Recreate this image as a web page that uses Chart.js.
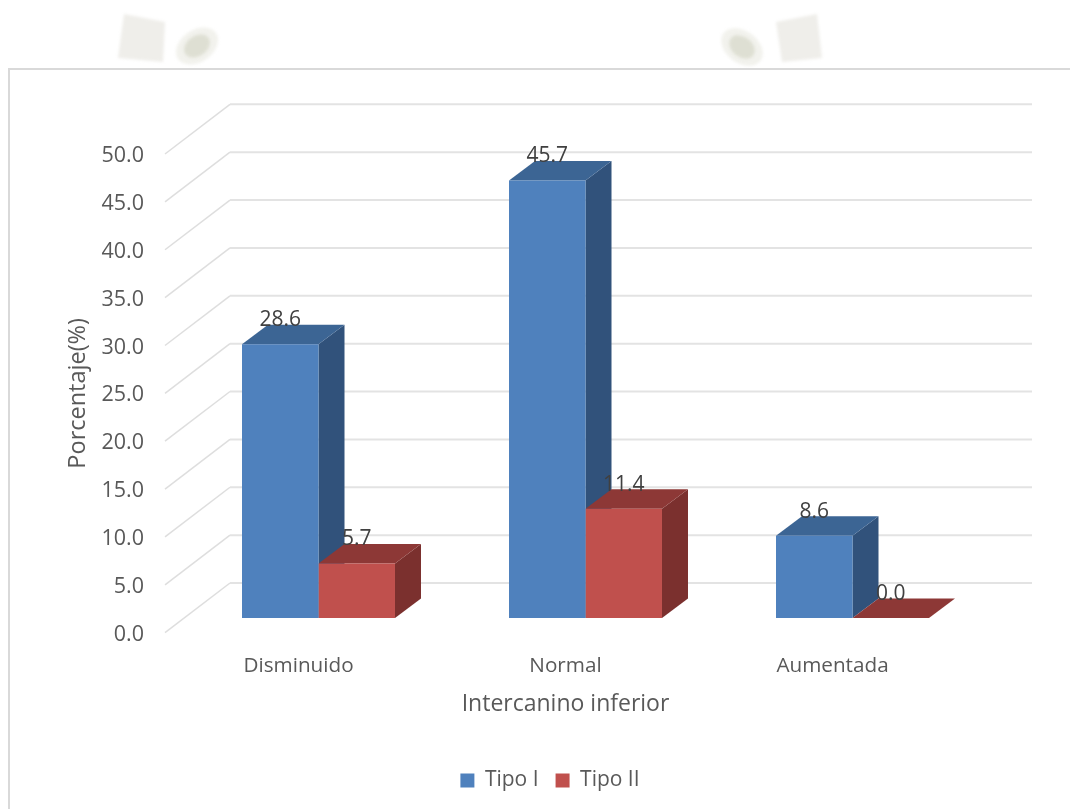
<!DOCTYPE html>
<html>
<head>
<meta charset="utf-8">
<title>Intercanino inferior</title>
<script src="https://cdn.jsdelivr.net/npm/chart.js@4"></script>
<style>
  html, body { margin: 0; padding: 0; background: #fff; }
  canvas { display: block; }
</style>
</head>
<body>
<canvas id="myChart" width="1070" height="809"></canvas>
<script>
const categories = ['Disminuido', 'Normal', 'Aumentada'];
const tipoI = [28.6, 45.7, 8.6];
const tipoII = [5.7, 11.4, 0.0];

const FONT = '"Open Sans", sans-serif';
const TEXT = '#595959';

// 3d look: how far the back wall and the bar depth are shifted
const WALL_DX = 65, WALL_DY = -49.7, WALL_RIGHT = 1032, WALL_LEFT = 165;
const BAR_DX = 26, BAR_DY = -19.5;
const FLOOR_SHIFT = 1.535; // bars stand a bit above the 0.0 tick, in axis units

const faces = [
    { front: '#4f81bd', side: '#31527b', top: '#3c6594' },
    { front: '#c0504d', side: '#7b302e', top: '#8d3836' }
];

function poly(c, pts, fill) {
    c.fillStyle = fill;
    c.beginPath();
    pts.forEach((p, i) => i ? c.lineTo(p[0], p[1]) : c.moveTo(p[0], p[1]));
    c.closePath();
    c.fill();
}

function blob(c, x, y, rot) {
    c.fillStyle = '#f2f2ed';
    c.beginPath();
    c.ellipse(x, y, 23, 16, rot, 0, Math.PI * 2);
    c.fill();
    c.fillStyle = '#dedfd3';
    c.beginPath();
    c.ellipse(x, y, 14, 10, rot, 0, Math.PI * 2);
    c.fill();
}

// page furniture: faint scan marks and the frame
const framePlugin = {
    id: 'frame',
    beforeDraw(chart) {
        const c = chart.ctx;
        c.save();
        c.fillStyle = '#fff';
        c.fillRect(0, 0, chart.width, chart.height);
        c.filter = 'blur(1.5px)';
        poly(c, [[124, 14], [165, 22], [163, 62], [118, 58]], '#efeeea');
        blob(c, 197, 46, -0.6);
        poly(c, [[776, 22], [817, 14], [822, 58], [782, 62]], '#efeeea');
        blob(c, 742, 47, 0.65);
        c.filter = 'none';
        c.strokeStyle = '#d9d9d9';
        c.lineWidth = 2;
        c.beginPath();
        c.moveTo(9, 809);
        c.lineTo(9, 69);
        c.lineTo(1070, 69);
        c.stroke();
        c.restore();
    }
};

// back wall lines and the 3d faces, all under the real bars
const wallPlugin = {
    id: 'wall',
    beforeDatasetsDraw(chart) {
        const c = chart.ctx, y = chart.scales.y;
        c.save();
        y.ticks.forEach(t => {
            const py = y.getPixelForValue(t.value);
            c.strokeStyle = '#dedede';
            c.lineWidth = 1.5;
            c.beginPath();
            c.moveTo(WALL_LEFT, py);
            c.lineTo(WALL_LEFT + WALL_DX, py + WALL_DY);
            c.stroke();
            c.strokeStyle = '#e3e3e3';
            c.lineWidth = 2;
            c.beginPath();
            c.moveTo(WALL_LEFT + WALL_DX, py + WALL_DY);
            c.lineTo(WALL_RIGHT, py + WALL_DY);
            c.stroke();
        });
        chart.data.datasets.forEach((ds, i) => {
            const f = faces[i];
            chart.getDatasetMeta(i).data.forEach(bar => {
                const l = bar.x - bar.width / 2, r = bar.x + bar.width / 2;
                const t = bar.y, b = bar.base;
                if (b - t > 0.5) {
                    poly(c, [[r, t], [r + BAR_DX, t + BAR_DY], [r + BAR_DX, b + BAR_DY], [r, b]], f.side);
                }
                poly(c, [[l, t], [l + BAR_DX, t + BAR_DY], [r + BAR_DX, t + BAR_DY], [r, t]], f.top);
            });
        });
        c.restore();
    }
};

const textPlugin = {
    id: 'texts',
    afterDatasetsDraw(chart) {
        const c = chart.ctx;
        c.save();
        c.font = '21px ' + FONT;
        c.fillStyle = '#404040';
        c.textAlign = 'center';
        c.textBaseline = 'middle';
        chart.data.datasets.forEach((ds, i) => {
            chart.getDatasetMeta(i).data.forEach((bar, j) => {
                c.fillText(ds.data[j].toFixed(1), bar.x, bar.y - 24);
            });
        });
        // axis title sits under the labels, not under the shifted bars
        c.font = '23px ' + FONT;
        c.fillStyle = TEXT;
        c.fillText('Intercanino inferior', 565.5, 704);
        c.restore();
    }
};

new Chart(document.getElementById('myChart').getContext('2d'), {
    type: 'bar',
    data: {
        labels: categories,
        datasets: [
            { label: 'Tipo I', data: tipoI, backgroundColor: faces[0].front, yAxisID: 'yBars' },
            { label: 'Tipo II', data: tipoII, backgroundColor: faces[1].front, yAxisID: 'yBars' }
        ]
    },
    options: {
        responsive: false,
        animation: false,
        categoryPercentage: 0.573,
        barPercentage: 1,
        layout: { padding: { left: 64, right: 34, top: 154, bottom: 8 } },
        plugins: {
            legend: {
                position: 'bottom',
                labels: {
                    boxWidth: 14,
                    boxHeight: 14,
                    padding: 17,
                    color: TEXT,
                    font: { family: FONT, size: 21 }
                }
            },
            tooltip: { enabled: false }
        },
        scales: {
            x: {
                grid: { display: false },
                border: { display: false },
                afterFit(s) { s.height = 120.3; },
                ticks: {
                    color: TEXT,
                    font: { family: FONT, size: 20.7 },
                    padding: 13,
                    labelOffset: -20,
                    autoSkip: false,
                    maxRotation: 0
                }
            },
            y: {
                min: 0,
                max: 50,
                grid: { display: false },
                border: { display: false },
                afterFit(s) { s.width = 121; },
                ticks: {
                    stepSize: 5,
                    color: TEXT,
                    font: { family: FONT, size: 21.5 },
                    padding: 33,
                    labelOffset: 2,
                    callback: v => v.toFixed(1)
                },
                title: {
                    display: true,
                    text: 'Porcentaje(%)',
                    color: TEXT,
                    font: { family: FONT, size: 23.5 },
                    padding: 0
                }
            },
            // same scale as y, moved so that value 0 sits on the floor of the bars
            yBars: {
                position: 'right',
                min: -FLOOR_SHIFT,
                max: 50 - FLOOR_SHIFT,
                grid: { display: false },
                border: { display: false },
                ticks: { display: false },
                afterFit(s) { s.width = 50; }
            }
        }
    },
    plugins: [framePlugin, wallPlugin, textPlugin]
});
</script>
</body>
</html>
